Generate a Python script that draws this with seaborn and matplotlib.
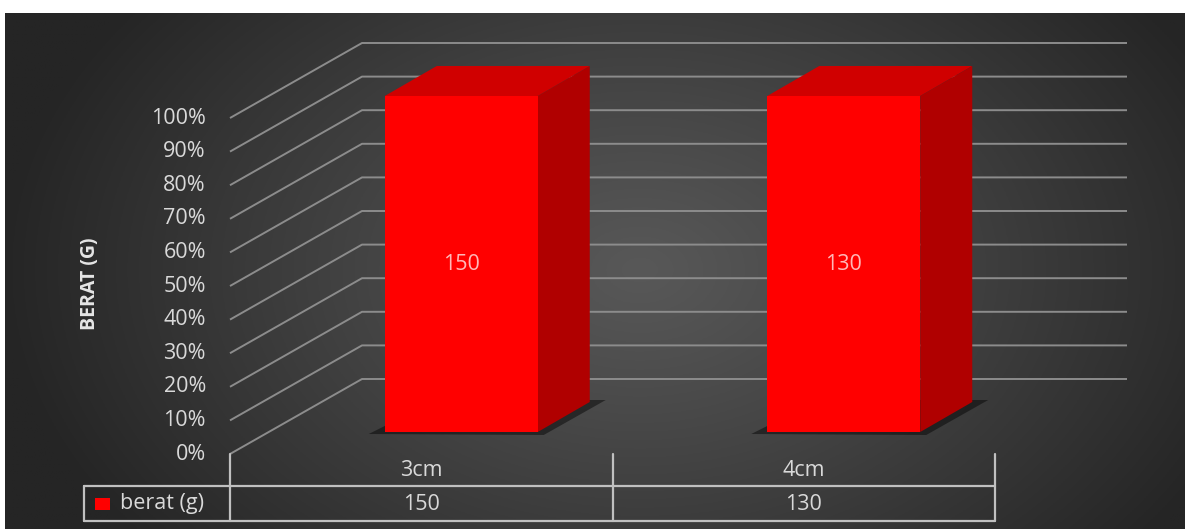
import numpy as np
import pandas as pd
import matplotlib
matplotlib.use('Agg')
import matplotlib.pyplot as plt
import seaborn as sns
from matplotlib.patches import Polygon, Rectangle

# ---------------- data ----------------
categories = ['3cm', '4cm']
series_name = 'berat (g)'
values = [150, 130]
y_ticks = [0, 10, 20, 30, 40, 50, 60, 70, 80, 90, 100]
y_tick_labels = [f'{t}%' for t in y_ticks]
y_label = 'BERAT (G)'

# 100% stacked: share of each category's total (single series)
totals = [v for v in values]
shares = [v / t for v, t in zip(values, totals)]

# ---------------- style ----------------
sns.set_theme(style='white')
plt.rcParams['font.family'] = ['Open Sans', 'DejaVu Sans']

W, H = 1185, 529
fig = plt.figure(figsize=(W / 100, H / 100), dpi=100, facecolor='white')

bg = fig.add_axes([0, 0, 1, 1])
bg.set_xlim(0, W)
bg.set_ylim(H, 0)
bg.axis('off')

# radial gradient background
gx = np.linspace(5, W, 600)
gy = np.linspace(13, H, 300)
X, Y = np.meshgrid(gx, gy)
r = np.sqrt(((X - 640) / 640) ** 2 + ((Y - 270) / 440) ** 2)
r = np.clip(r, 0, 1) ** 1.1
c_in = np.array([0x58, 0x58, 0x58]) / 255
c_out = np.array([0x25, 0x25, 0x25]) / 255
img = c_in[None, None, :] * (1 - r[..., None]) + c_out[None, None, :] * r[..., None]
bg.imshow(img, extent=(5, W, H, 13), aspect='auto', origin='upper', zorder=0)

# bar plane axes
ax = fig.add_axes([270 / W, (H - 432) / H, 765 / W, 336 / H])
ax.patch.set_alpha(0)
df = pd.DataFrame({'cat': categories, 'share': shares})
sns.barplot(data=df, x='cat', y='share', color='#ff0000', saturation=1,
            width=0.4, ax=ax, zorder=3, linewidth=0, edgecolor='none')
ax.set_xlim(-0.5, 1.5)
ax.set_ylim(0, 1)
ax.axis('off')


def px(xd, yd):
    dx, dy = ax.transData.transform((xd, yd))
    return dx, H - dy


FRONT = (-40, 22)
BACK = (92, -53)
DEPTH = (52, -30)
grid_c = '#8c8c8c'
txt_c = '#d9d9d9'

# gridlines: left wall diagonals + back wall horizontals
for t, lab in zip(y_ticks, y_tick_labels):
    v = t / 100
    bx, by = px(-0.5, v)
    rx, _ = px(1.5, v)
    fxy = (bx + FRONT[0], by + FRONT[1])
    bxy = (bx + BACK[0], by + BACK[1])
    rxy = (rx + BACK[0], by + BACK[1])
    bg.plot([fxy[0], bxy[0], rxy[0]], [fxy[1], bxy[1], rxy[1]],
            color=grid_c, lw=1.4, zorder=1, solid_capstyle='butt')
    bg.text(fxy[0] - 24, fxy[1], lab, ha='right', va='center',
            color=txt_c, fontsize=15.5)

bg.text(90, 284, y_label, rotation=90, ha='center', va='center',
        color='#e6e6e6', fontsize=14, fontweight='bold')

# 3D faces of bars
for patch, val in zip(ax.patches, values):
    x0 = patch.get_x()
    w = patch.get_width()
    h = patch.get_height()
    L, B = px(x0, 0)
    R, T = px(x0 + w, h)
    dx, dy = DEPTH
    shadow = Polygon([(L - 16, B + 2), (R + 6, B + 3), (R + dx + 16, B + dy - 2),
                      (L + dx, B + dy - 2)], closed=True,
                     facecolor='#000000', alpha=0.45, edgecolor='none', zorder=2)
    bg.add_patch(shadow)
    top = Polygon([(L, T), (R, T), (R + dx, T + dy), (L + dx, T + dy)], closed=True,
                  facecolor='#d00000', edgecolor='none', zorder=3)
    side = Polygon([(R, T), (R + dx, T + dy), (R + dx, B + dy), (R, B)], closed=True,
                   facecolor='#b00000', edgecolor='none', zorder=3)
    bg.add_patch(top)
    bg.add_patch(side)
    ax.text(x0 + w / 2, h / 2, str(val), ha='center', va='center',
            color='#ffb8b8', fontsize=15.5, zorder=5)

# data table
tbl_c = '#c0c0c0'
row_top, row_bot = 486, 521
bounds = [-0.5 + i for i in range(len(categories) + 1)]
front_xs = [px(b, 0)[0] + FRONT[0] for b in bounds]
y0_front = px(-0.5, 0)[1] + FRONT[1]
for fx in front_xs:
    bg.plot([fx, fx], [y0_front, row_bot], color=tbl_c, lw=1.6, zorder=2)
bg.plot([84, 84], [row_top, row_bot], color=tbl_c, lw=1.6, zorder=2)
for yy in (row_top, row_bot):
    bg.plot([84, front_xs[-1]], [yy, yy], color=tbl_c, lw=1.6, zorder=2)

for i, (cat, val) in enumerate(zip(categories, values)):
    cx = (front_xs[i] + front_xs[i + 1]) / 2
    bg.text(cx, 471, cat, ha='center', va='center', color=txt_c, fontsize=15.5)
    bg.text(cx, 504, str(val), ha='center', va='center', color=txt_c, fontsize=15.5)

bg.add_patch(Rectangle((95, 498), 15, 12, facecolor='#ff0000', edgecolor='none', zorder=3))
bg.text(120, 503, series_name, ha='left', va='center', color=txt_c, fontsize=15.5)

fig.savefig('out.png', dpi=100, facecolor='white')
